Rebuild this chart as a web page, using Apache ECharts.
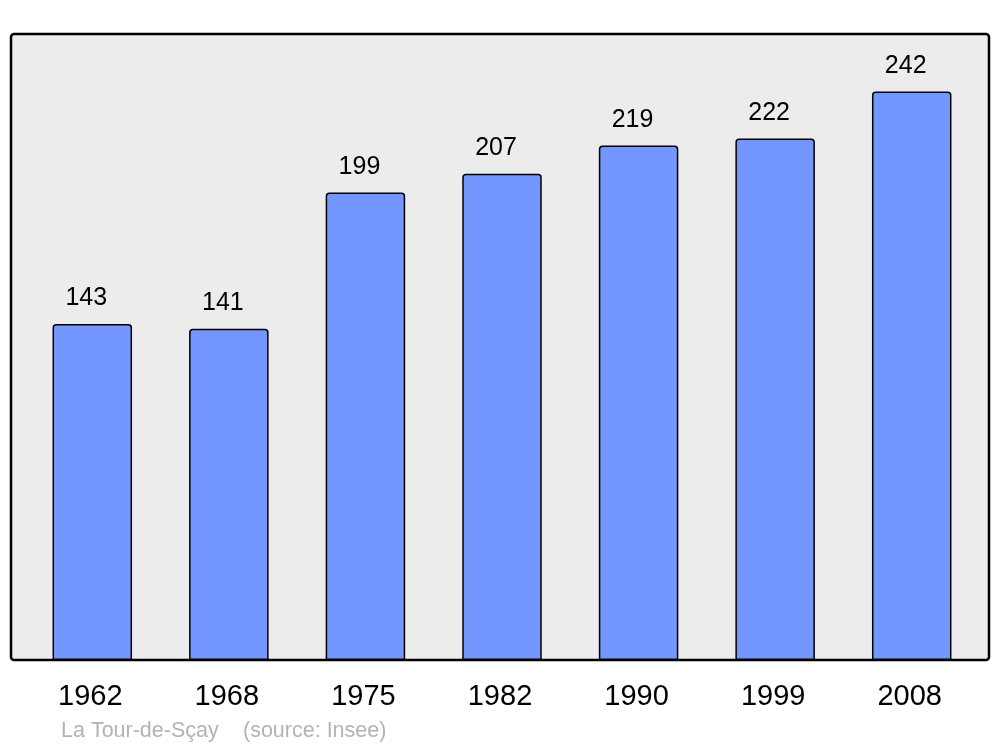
<!DOCTYPE html>
<html>
<head>
<meta charset="utf-8">
<script src="https://cdn.jsdelivr.net/npm/echarts@6/dist/echarts.min.js"></script>
<style>html,body{margin:0;padding:0;background:#fff}#c{width:1000px;height:747px}</style>
</head>
<body>
<div id="c"></div>
<script>
const years = ['1962', '1968', '1975', '1982', '1990', '1999', '2008'];
const population = [143, 141, 199, 207, 219, 222, 242];
const footerPlace = 'La Tour-de-Sçay';
const footerSource = '(source: Insee)';

const chart = echarts.init(document.getElementById('c'), null, {renderer: 'canvas'});
chart.setOption({
  animation: false,
  backgroundColor: '#ffffff',
  graphic: [
    {type: 'rect', z: -10, shape: {x: 11, y: 34, width: 978, height: 626, r: 3},
     style: {fill: '#ececec', stroke: '#000', lineWidth: 2.5}},
    {type: 'text', left: 61, top: 720, style: {text: footerPlace, fill: '#b3b3b3', font: '21.5px "Liberation Sans", Arial, sans-serif'}},
    {type: 'text', left: 243, top: 720, style: {text: footerSource, fill: '#b3b3b3', font: '21.5px "Liberation Sans", Arial, sans-serif'}}
  ],
  grid: {left: 24, right: 20, top: 34, bottom: 87, containLabel: false},
  xAxis: {
    type: 'category', data: years,
    axisLine: {show: false}, axisTick: {show: false},
    axisLabel: {color: '#000', fontSize: 29, fontFamily: '"Liberation Sans", Arial, sans-serif', margin: 22, padding: [0, 4, 0, 0]}
  },
  yAxis: {type: 'value', min: 0, max: 266.5, show: false, splitLine: {show: false}},
  series: [{
    type: 'bar', data: population, barWidth: 79.5,
    itemStyle: {color: '#7396ff', borderColor: '#000', borderWidth: 1.5, borderRadius: [3, 3, 0, 0]},
    label: {show: true, position: 'top', distance: 13, offset: [-6, 0], color: '#000', fontSize: 25,
            fontFamily: '"Liberation Sans", Arial, sans-serif'}
  }]
});
</script>
</body>
</html>
